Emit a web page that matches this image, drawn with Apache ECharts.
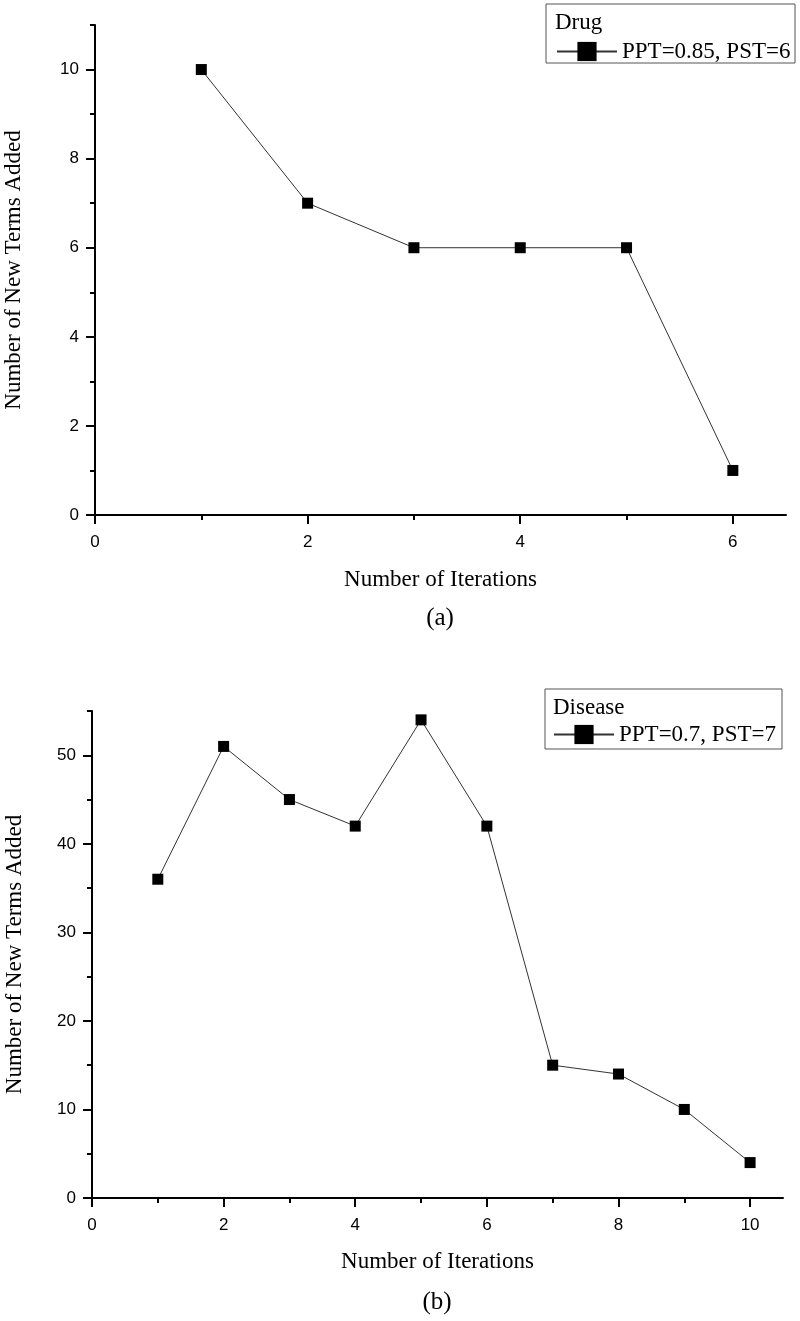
<!DOCTYPE html>
<html>
<head>
<meta charset="utf-8">
<script src="https://cdn.jsdelivr.net/npm/echarts@6/dist/echarts.min.js"></script>
<style>html,body{margin:0;padding:0;background:#fff}#c{width:800px;height:1321px}</style>
</head>
<body>
<div id="c"></div>
<script>
// ---- data ----
const drugIter = [1, 2, 3, 4, 5, 6];
const drugTerms = [10, 7, 6, 6, 6, 1];
const diseaseIter = [1, 2, 3, 4, 5, 6, 7, 8, 9, 10];
const diseaseTerms = [36, 51, 45, 42, 54, 42, 15, 14, 10, 4];

const drugXMajor = [0, 2, 4, 6];
const drugXMinor = [1, 3, 5];
const drugYMajor = [0, 2, 4, 6, 8, 10];
const drugYMinor = [1, 3, 5, 7, 9, 11];
const disXMajor = [0, 2, 4, 6, 8, 10];
const disXMinor = [1, 3, 5, 7, 9];
const disYMajor = [0, 10, 20, 30, 40, 50];
const disYMinor = [5, 15, 25, 35, 45, 55];

const drugName = 'PPT=0.85, PST=6';
const diseaseName = 'PPT=0.7, PST=7';
const xTitle = 'Number of Iterations';
const yTitle = 'Number of New Terms Added';

// ---- styling helpers ----
const SERIF = "'Liberation Serif', 'Times New Roman', serif";
const SANS = "'Liberation Sans', Arial, sans-serif";
const axisLine = { show: true, onZero: false, lineStyle: { color: '#000', width: 2 } };
const labelStyle = { color: '#000', fontFamily: SANS, fontSize: 17 };
const nameStyle = { color: '#000', fontFamily: SERIF, fontSize: 23 };

function majorX(grid, min, max, ticks, gap) {
  return {
    type: 'value', gridIndex: grid, min: min, max: max, position: 'bottom',
    axisLine: axisLine,
    axisTick: { show: true, inside: false, length: 9, customValues: ticks, lineStyle: { color: '#000', width: 2 } },
    axisLabel: { show: true, customValues: ticks, margin: 19, ...labelStyle },
    splitLine: { show: false },
    name: xTitle, nameLocation: 'middle', nameGap: gap, nameTextStyle: nameStyle
  };
}
function minorX(grid, min, max, ticks) {
  return {
    type: 'value', gridIndex: grid, min: min, max: max, position: 'bottom',
    axisLine: { show: false, onZero: false },
    axisTick: { show: true, inside: false, length: 5, customValues: ticks, lineStyle: { color: '#000', width: 2 } },
    axisLabel: { show: false }, splitLine: { show: false }
  };
}
function majorY(grid, min, max, ticks, gap) {
  return {
    type: 'value', gridIndex: grid, min: min, max: max, position: 'left',
    axisLine: axisLine,
    axisTick: { show: true, inside: false, length: 9, customValues: ticks, lineStyle: { color: '#000', width: 2 } },
    axisLabel: { show: true, customValues: ticks, margin: 16, ...labelStyle },
    splitLine: { show: false },
    name: yTitle, nameLocation: 'middle', nameGap: gap, nameTextStyle: nameStyle
  };
}
function minorY(grid, min, max, ticks) {
  return {
    type: 'value', gridIndex: grid, min: min, max: max, position: 'left',
    axisLine: { show: false, onZero: false },
    axisTick: { show: true, inside: false, length: 5, customValues: ticks, lineStyle: { color: '#000', width: 2 } },
    axisLabel: { show: false }, splitLine: { show: false }
  };
}

const chart = echarts.init(document.getElementById('c'), null, { renderer: 'canvas' });
chart.setOption({
  backgroundColor: '#fff',
  animation: false,
  grid: [
    { left: 95, top: 25, right: 14, height: 490, containLabel: false, outerBoundsMode: 'none' },
    { left: 92, top: 711, right: 17, height: 487, containLabel: false, outerBoundsMode: 'none' }
  ],
  xAxis: [
    majorX(0, 0, 6.5, drugXMajor, 53),
    minorX(0, 0, 6.5, drugXMinor),
    majorX(1, 0, 10.5, disXMajor, 52),
    minorX(1, 0, 10.5, disXMinor)
  ],
  yAxis: [
    majorY(0, 0, 11, drugYMajor, 70),
    minorY(0, 0, 11, drugYMinor),
    majorY(1, 0, 55, disYMajor, 66),
    minorY(1, 0, 55, disYMinor)
  ],
  legend: [
    {
      data: [drugName], left: 556, top: 40, itemWidth: 60, itemHeight: 24, itemGap: 0,
      textStyle: { color: '#000', fontFamily: SERIF, fontSize: 23 }, padding: 0
    },
    {
      data: [diseaseName], left: 553, top: 723, itemWidth: 60, itemHeight: 24, itemGap: 0,
      textStyle: { color: '#000', fontFamily: SERIF, fontSize: 23 }, padding: 0
    }
  ],
  graphic: [
    { type: 'rect', shape: { x: 546, y: 4, width: 249, height: 59 }, style: { fill: 'none', stroke: '#555', lineWidth: 1 } },
    { type: 'text', x: 555, y: 23, style: { text: 'Drug', fill: '#000', font: "23px " + SERIF, textVerticalAlign: 'middle' } },
    { type: 'rect', shape: { x: 545, y: 689, width: 237, height: 60 }, style: { fill: 'none', stroke: '#555', lineWidth: 1 } },
    { type: 'text', x: 553, y: 708, style: { text: 'Disease', fill: '#000', font: "23px " + SERIF, textVerticalAlign: 'middle' } },
    { type: 'text', x: 440, y: 618, style: { text: '(a)', fill: '#000', font: "25px " + SERIF, textAlign: 'center', textVerticalAlign: 'middle' } },
    { type: 'text', x: 437, y: 1302, style: { text: '(b)', fill: '#000', font: "25px " + SERIF, textAlign: 'center', textVerticalAlign: 'middle' } }
  ],
  series: [
    {
      name: drugName, type: 'line', xAxisIndex: 0, yAxisIndex: 0,
      data: drugIter.map((x, i) => [x, drugTerms[i]]),
      symbol: 'rect', symbolSize: 11,
      itemStyle: { color: '#000' },
      lineStyle: { color: '#333', width: 1 }
    },
    {
      name: diseaseName, type: 'line', xAxisIndex: 2, yAxisIndex: 2,
      data: diseaseIter.map((x, i) => [x, diseaseTerms[i]]),
      symbol: 'rect', symbolSize: 11,
      itemStyle: { color: '#000' },
      lineStyle: { color: '#333', width: 1 }
    }
  ]
});
</script>
</body>
</html>
